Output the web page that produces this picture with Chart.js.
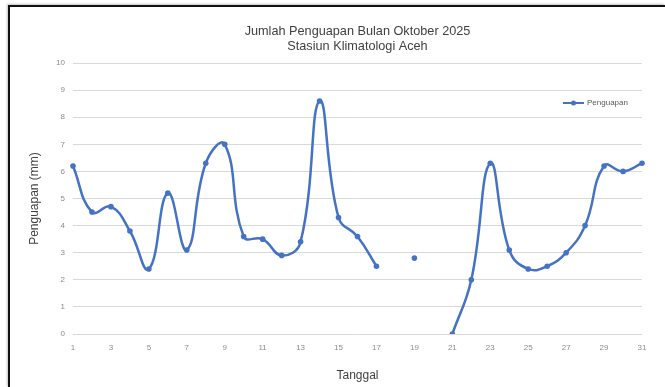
<!DOCTYPE html>
<html>
<head>
<meta charset="utf-8">
<script src="https://cdn.jsdelivr.net/npm/chart.js@4"></script>
<style>
  html, body { margin: 0; padding: 0; background: #fff; }
  #frame {
    position: absolute; left: 8px; top: 5px;
    width: 655px; height: 380px;
    border-top: 2px solid #111; border-left: 2px solid #111;
    box-shadow: -1px -1px 2px rgba(0,0,0,0.25);
    background: #fff;
  }
  #wrap { position: absolute; left: 0; top: 0; width: 655px; height: 380px; }
</style>
</head>
<body>
<div id="frame"><div id="wrap"><canvas id="c"></canvas></div></div>
<script>
// Daily evaporation, Stasiun Klimatologi Aceh, October 2025 (mm)
const days = ['1','2','3','4','5','6','7','8','9','10','11','12','13','14','15','16',
              '17','18','19','20','21','22','23','24','25','26','27','28','29','30','31'];
const penguapan = [6.2, 4.5, 4.7, 3.8, 2.4, 5.2, 3.1, 6.3, 7.0, 3.6, 3.5, 2.9, 3.4, 8.6, 4.3, 3.6,
                   2.5, null, 2.8, null, 0, 2.0, 6.3, 3.1, 2.4, 2.5, 3.0, 4.0, 6.2, 6.0, 6.3];
const yTicks = [0, 1, 2, 3, 4, 5, 6, 7, 8, 9, 10];
const titleLines = ['Jumlah Penguapan Bulan Oktober 2025', 'Stasiun Klimatologi Aceh'];

const BLUE = '#4472C4';
const FONT = "'Liberation Sans', Arial, sans-serif";

// Two-line title centred over the plot area rather than the whole canvas
const plotTitle = {
  id: 'plotTitle',
  afterDraw(chart) {
    const ctx = chart.ctx;
    const a = chart.chartArea;
    const cx = (a.left + a.right) / 2;
    ctx.save();
    ctx.fillStyle = '#404040';
    ctx.font = '12.7px ' + FONT;
    ctx.textAlign = 'center';
    ctx.textBaseline = 'middle';
    titleLines.forEach((t, i) => ctx.fillText(t, cx, a.top - 32 + i * 15));
    ctx.restore();
  }
};

// Legend drawn inside the plot area, top right
const insideLegend = {
  id: 'insideLegend',
  afterDraw(chart) {
    const ds = chart.data.datasets[0];
    const ctx = chart.ctx;
    const a = chart.chartArea;
    const x0 = a.right - 79, y = a.top + 40;
    ctx.save();
    ctx.strokeStyle = ds.borderColor;
    ctx.lineWidth = 2;
    ctx.beginPath(); ctx.moveTo(x0, y); ctx.lineTo(x0 + 21, y); ctx.stroke();
    ctx.fillStyle = ds.borderColor;
    ctx.beginPath(); ctx.arc(x0 + 10.5, y, 2.5, 0, Math.PI * 2); ctx.fill();
    ctx.fillStyle = '#595959';
    ctx.font = '8px ' + FONT;
    ctx.textBaseline = 'middle';
    ctx.fillText(ds.label, x0 + 24, y);
    ctx.restore();
  }
};

new Chart(document.getElementById('c'), {
  type: 'line',
  data: {
    labels: days,
    datasets: [{
      label: 'Penguapan',
      data: penguapan,
      borderColor: BLUE,
      backgroundColor: BLUE,
      borderWidth: 2.5,
      pointRadius: 2.8,
      pointHoverRadius: 3,
      pointBackgroundColor: BLUE,
      pointBorderWidth: 0,
      tension: 0.45,
      spanGaps: false,
      fill: false
    }]
  },
  options: {
    responsive: true,
    maintainAspectRatio: false,
    animation: false,
    layout: { padding: { left: 0, right: 23, top: 56, bottom: 0 } },
    plugins: {
      legend: { display: false },
      tooltip: { enabled: false },
      title: { display: false }
    },
    scales: {
      x: {
        type: 'category',
        offset: false,
        grid: { display: false, drawTicks: false },
        border: { display: false },
        ticks: {
          autoSkip: false,
          maxRotation: 0,
          padding: 9,
          color: '#8c8c8c',
          font: { family: FONT, size: 8 },
          callback(v, i) { return i % 2 === 0 ? days[i] : ''; }
        },
        title: {
          display: true,
          text: 'Tanggal',
          color: '#404040',
          font: { family: FONT, size: 12 },
          padding: { top: 4, bottom: 4 }
        },
        afterFit(s) { s.height = 53; }
      },
      y: {
        min: 0,
        max: 10,
        afterBuildTicks(s) { s.ticks = yTicks.map(v => ({ value: v })); },
        grid: { color: '#d9d9d9', lineWidth: 1, drawTicks: false },
        border: { display: false },
        ticks: {
          padding: 8,
          color: '#8c8c8c',
          font: { family: FONT, size: 8 }
        },
        title: {
          display: true,
          text: 'Penguapan (mm)',
          color: '#404040',
          font: { family: FONT, size: 12 },
          padding: { top: 17, bottom: 0 }
        },
        afterFit(s) { s.width = 63; }
      }
    }
  },
  plugins: [plotTitle, insideLegend]
});
</script>
</body>
</html>
